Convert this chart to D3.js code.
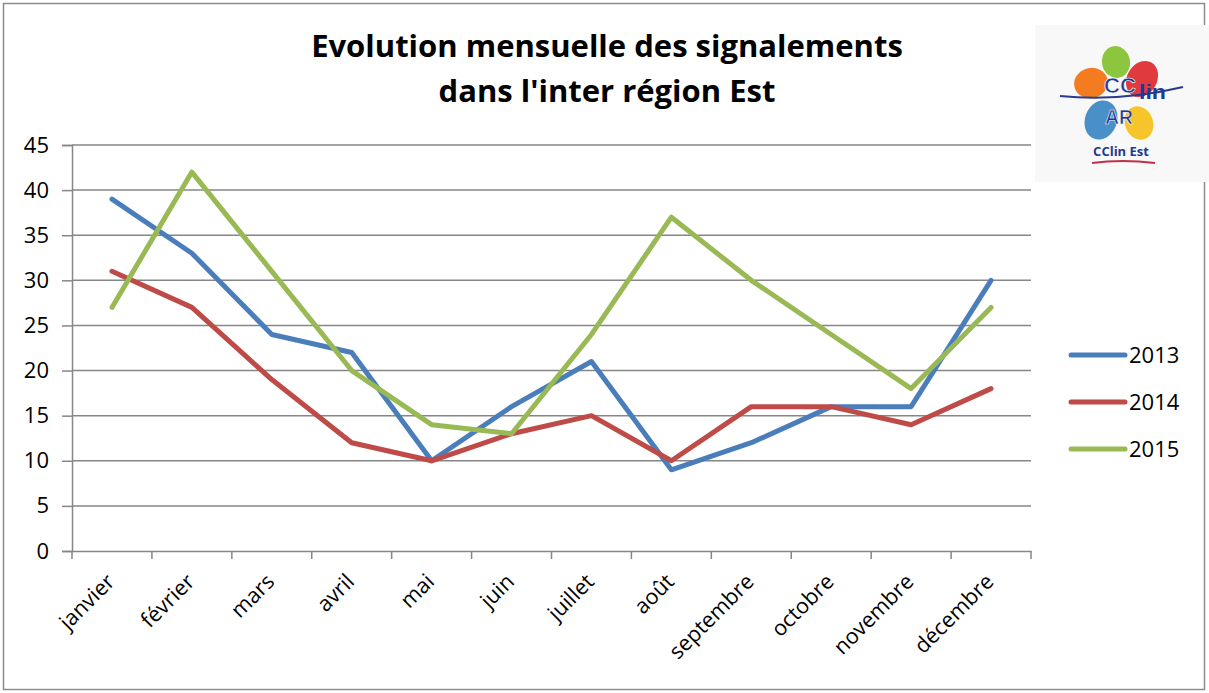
<!DOCTYPE html>
<html><head><meta charset="utf-8">
<script src="https://cdn.jsdelivr.net/npm/d3@7"></script>
<style>body{margin:0;background:#fff;}svg{display:block;}</style>
</head><body>
<svg id="c" width="1209" height="693"></svg>
<script>
const months = ["janvier","février","mars","avril","mai","juin","juillet","août","septembre","octobre","novembre","décembre"];
const s2013 = [39,33,24,22,10,16,21,9,12,16,16,30];
const s2014 = [31,27,19,12,10,13,15,10,16,16,14,18];
const s2015 = [27,42,31,20,14,13,24,37,30,24,18,27];
const seriesNames = ["2013","2014","2015"];
const seriesColors = ["#4a7ebb","#be4b48","#98b954"];
const yTicks = [0,5,10,15,20,25,30,35,40,45];
const titleLines = ["Evolution mensuelle des signalements","dans l'inter région Est"];

const series = [s2013,s2014,s2015].map((v,i)=>({name:seriesNames[i],color:seriesColors[i],values:v}));
const svg = d3.select("#c");
const font = "'Open Sans', sans-serif";

// frame
svg.append("rect").attr("x",3.5).attr("y",3.5).attr("width",1201).attr("height",686)
  .attr("fill","#fff").attr("stroke","#8c8c8c").attr("stroke-width",1.5);

const L=72, R=1031, T=145, B=551;
const x = d3.scaleBand().domain(months).range([L,R]);
const y = d3.scaleLinear().domain([0,45]).range([B,T]);

// gridlines
svg.append("g").selectAll("line").data(yTicks.filter(d=>d>0)).join("line")
  .attr("x1",L).attr("x2",R).attr("y1",d=>y(d)).attr("y2",d=>y(d))
  .attr("stroke","#868686").attr("stroke-width",1.5);

// y axis
const yAxis = svg.append("g").attr("transform",`translate(${L},0)`)
  .call(d3.axisLeft(y).tickValues(yTicks).tickSize(10).tickPadding(13));
yAxis.select(".domain").attr("stroke","#868686").attr("stroke-width",1.5);
yAxis.selectAll(".tick line").attr("stroke","#868686").attr("stroke-width",1.5);
yAxis.selectAll("text").attr("font-family",font).attr("font-size",22).attr("fill","#000");

// x axis
const xAxis = svg.append("g").attr("transform",`translate(0,${B})`)
  .call(d3.axisBottom(x).tickSize(0).tickFormat(""));
xAxis.select(".domain").attr("stroke","#868686").attr("stroke-width",1.5);
const bound = months.map((m,i)=>x(m)).concat([R]);
svg.append("g").selectAll("line").data(bound).join("line")
  .attr("x1",d=>d).attr("x2",d=>d).attr("y1",B).attr("y2",B+8)
  .attr("stroke","#868686").attr("stroke-width",1.5);
svg.append("g").selectAll("text").data(months).join("text")
  .attr("transform",d=>`translate(${x(d)+x.bandwidth()/2+4},${B+32}) rotate(-45)`)
  .attr("text-anchor","end").attr("font-family",font).attr("font-size",21.5).attr("fill","#000")
  .text(d=>d);

// lines
const line = d3.line().x((d,i)=>x(months[i])+x.bandwidth()/2).y(d=>y(d));
svg.append("g").selectAll("path").data(series).join("path")
  .attr("d",d=>line(d.values)).attr("fill","none").attr("stroke",d=>d.color)
  .attr("stroke-width",5).attr("stroke-linejoin","round").attr("stroke-linecap","round");

// title
svg.append("g").selectAll("text").data(titleLines).join("text")
  .attr("x",607).attr("y",(d,i)=>57+i*45).attr("text-anchor","middle")
  .attr("font-family",font).attr("font-weight","bold").attr("font-size",31).attr("fill","#000")
  .text(d=>d);

// legend
const lg = svg.append("g").selectAll("g").data(series).join("g")
  .attr("transform",(d,i)=>`translate(1071,${355+i*47})`);
lg.append("line").attr("x1",0).attr("x2",54).attr("y1",0).attr("y2",0)
  .attr("stroke",d=>d.color).attr("stroke-width",5).attr("stroke-linecap","round");
lg.append("text").attr("x",58).attr("y",8).attr("font-family",font).attr("font-size",22).attr("fill","#000")
  .text(d=>d.name);

// logo (approximation)
const logo = svg.append("g");
logo.append("rect").attr("x",1035).attr("y",25).attr("width",174).attr("height",157).attr("fill","#f8f8f8");
const petals = [
  {cx:1116,cy:62,rx:14,ry:16,rot:-10,c:"#8cc63f"},
  {cx:1142,cy:79,rx:15,ry:19,rot:30,c:"#e03a3e"},
  {cx:1091,cy:83,rx:17,ry:15,rot:-15,c:"#f47b20"},
  {cx:1101,cy:120,rx:16,ry:20,rot:20,c:"#4a90c8"},
  {cx:1139,cy:123,rx:14,ry:17,rot:-20,c:"#f7c52b"}
];
logo.selectAll("ellipse").data(petals).join("ellipse")
  .attr("cx",d=>d.cx).attr("cy",d=>d.cy).attr("rx",d=>d.rx).attr("ry",d=>d.ry)
  .attr("transform",d=>`rotate(${d.rot},${d.cx},${d.cy})`).attr("fill",d=>d.c);
logo.append("path").attr("d","M1060,96 Q1120,102 1183,87").attr("fill","none").attr("stroke","#2b3a8c").attr("stroke-width",2);
const lf = "'Liberation Sans', sans-serif";
logo.append("text").attr("x",1104).attr("y",93).attr("font-family",lf)
  .attr("font-size",22).attr("font-weight","bold").attr("fill","#1f3a93").attr("stroke","#fff").attr("stroke-width",0.6)
  .attr("textLength",32).attr("lengthAdjust","spacingAndGlyphs").text("CC");
logo.append("text").attr("x",1139).attr("y",99).attr("font-family",lf)
  .attr("font-size",20).attr("font-weight","bold").attr("fill","#1f3a93")
  .attr("textLength",27).attr("lengthAdjust","spacingAndGlyphs").text("lin");
logo.append("text").attr("x",1105).attr("y",124).attr("font-family",lf)
  .attr("font-size",21).attr("font-weight","bold").attr("fill","#1f3a93").attr("stroke","#fff").attr("stroke-width",0.6)
  .attr("textLength",28).attr("lengthAdjust","spacingAndGlyphs").text("AR");
logo.append("text").attr("x",1121).attr("y",156).attr("text-anchor","middle").attr("font-family",font)
  .attr("font-weight","bold").attr("font-size",13).attr("fill","#1f3a93").text("CClin Est");
logo.append("path").attr("d","M1092,163 Q1122,159 1155,163").attr("fill","none").attr("stroke","#c0304a").attr("stroke-width",2);
</script>
</body></html>
